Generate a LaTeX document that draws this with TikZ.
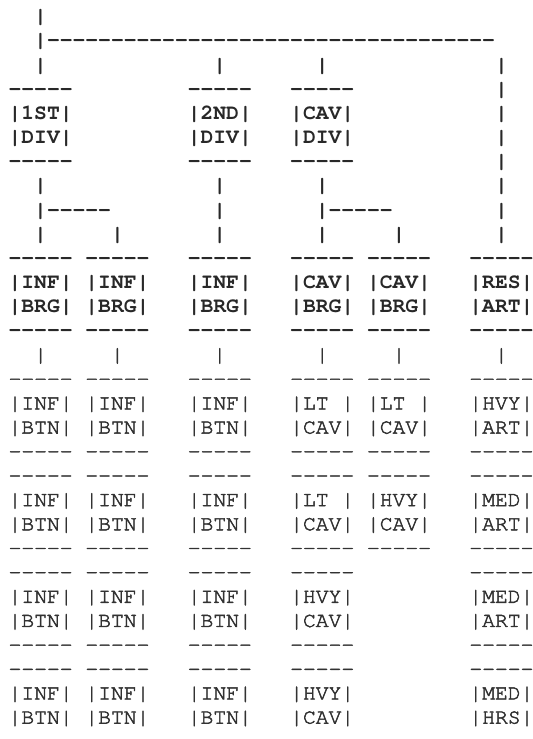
\documentclass[tikz,border=0pt]{standalone}
\usepackage[T1,TU]{fontenc}
\definecolor{asccol}{RGB}{40,40,40}
\definecolor{asclite}{RGB}{50,50,50}
\newcount\dcnt
\newcommand\dashrep[1]{\dcnt=#1\relax\loop-{}\advance\dcnt by -1\relax\ifnum\dcnt>0 \repeat}
\newcommand\ascfont{\fontencoding{T1}\fontfamily{pcr}\fontseries{m}\fontshape{n}\fontsize{16}{18}\selectfont}
\newcommand\ascbold{\fontencoding{T1}\fontfamily{pcr}\fontseries{b}\fontshape{n}\fontsize{16}{18}\selectfont}
\tikzset{
  asc/.style={anchor=base west, inner sep=0pt, outer sep=0pt, font=\ascfont, text=asclite,
    execute at begin node={\special{pdf:literal direct 2 Tr 0.35 w}},
    execute at end node={\special{pdf:literal direct 0 Tr}}},
  ascb/.style={anchor=base west, inner sep=0pt, outer sep=0pt, font=\ascbold, text=asccol}
}
% one run of characters: [style] name col line text
\newcommand\glyphs[5][asc]{\node[#1] (#2) at ({8.6+12.8*(#3)},{22.7+24.17*((#4)-1)}) {#5};}
% a box of four lines: [style] name col topline label1 label2
\newcommand\unitbox[6][asc]{%
  \glyphs[#1]{#2t}{#3}{#4}{\dashrep{5}}%
  \glyphs[#1]{#2a}{#3}{#4+1}{\textbar #5\textbar}%
  \glyphs[#1]{#2b}{#3}{#4+2}{\textbar #6\textbar}%
  \glyphs[#1]{#2u}{#3}{#4+3}{\dashrep{5}}}
% a box whose bottom line falls outside the picture
\newcommand\unitopen[6][asc]{%
  \glyphs[#1]{#2t}{#3}{#4}{\dashrep{5}}%
  \glyphs[#1]{#2a}{#3}{#4+1}{\textbar #5\textbar}%
  \glyphs[#1]{#2b}{#3}{#4+2}{\textbar #6\textbar}}
\begin{document}
\begin{tikzpicture}[x=0.75pt,y=-0.75pt]
\fill[white] (0,0) rectangle (532,739);
\useasboundingbox (0,0) rectangle (532,739);
% trunk and bus
\glyphs[ascb]{top}{2}{1}{\textbar}
\glyphs[ascb]{bus}{2}{2}{\textbar\dashrep{35}}
\glyphs[ascb]{v3a}{2}{3}{\textbar}
\glyphs[ascb]{v3b}{16}{3}{\textbar}
\glyphs[ascb]{v3c}{24}{3}{\textbar}
\glyphs[ascb]{v3d}{38}{3}{\textbar}
% divisions
\unitbox[ascb]{d1}{0}{4}{1ST}{DIV}
\unitbox[ascb]{d2}{14}{4}{2ND}{DIV}
\unitbox[ascb]{d3}{22}{4}{CAV}{DIV}
\glyphs[ascb]{v4d}{38}{4}{\textbar}
\glyphs[ascb]{v5d}{38}{5}{\textbar}
\glyphs[ascb]{v6d}{38}{6}{\textbar}
\glyphs[ascb]{v7d}{38}{7}{\textbar}
% links to brigades
\glyphs[ascb]{v8a}{2}{8}{\textbar}
\glyphs[ascb]{v8b}{16}{8}{\textbar}
\glyphs[ascb]{v8c}{24}{8}{\textbar}
\glyphs[ascb]{v8d}{38}{8}{\textbar}
\glyphs[ascb]{h9a}{2}{9}{\textbar\dashrep{5}}
\glyphs[ascb]{v9b}{16}{9}{\textbar}
\glyphs[ascb]{h9c}{24}{9}{\textbar\dashrep{5}}
\glyphs[ascb]{v9d}{38}{9}{\textbar}
\glyphs[ascb]{v10a}{2}{10}{\textbar}
\glyphs[ascb]{v10b}{8}{10}{\textbar}
\glyphs[ascb]{v10c}{16}{10}{\textbar}
\glyphs[ascb]{v10d}{24}{10}{\textbar}
\glyphs[ascb]{v10e}{30}{10}{\textbar}
\glyphs[ascb]{v10f}{38}{10}{\textbar}
% brigades
\unitbox[ascb]{b1}{0}{11}{INF}{BRG}
\unitbox[ascb]{b2}{6}{11}{INF}{BRG}
\unitbox[ascb]{b3}{14}{11}{INF}{BRG}
\unitbox[ascb]{b4}{22}{11}{CAV}{BRG}
\unitbox[ascb]{b5}{28}{11}{CAV}{BRG}
\unitbox[ascb]{b6}{36}{11}{RES}{ART}
% links to units
\glyphs{v15a}{2}{15}{\textbar}
\glyphs{v15b}{8}{15}{\textbar}
\glyphs{v15c}{16}{15}{\textbar}
\glyphs{v15d}{24}{15}{\textbar}
\glyphs{v15e}{30}{15}{\textbar}
\glyphs{v15f}{38}{15}{\textbar}
% units, first row
\unitbox{u11}{0}{16}{INF}{BTN}
\unitbox{u21}{6}{16}{INF}{BTN}
\unitbox{u31}{14}{16}{INF}{BTN}
\unitbox{u41}{22}{16}{LT\phantom{T}}{CAV}
\unitbox{u51}{28}{16}{LT\phantom{T}}{CAV}
\unitbox{u61}{36}{16}{HVY}{ART}
% second row
\unitbox{u12}{0}{20}{INF}{BTN}
\unitbox{u22}{6}{20}{INF}{BTN}
\unitbox{u32}{14}{20}{INF}{BTN}
\unitbox{u42}{22}{20}{LT\phantom{T}}{CAV}
\unitbox{u52}{28}{20}{HVY}{CAV}
\unitbox{u62}{36}{20}{MED}{ART}
% third row
\unitbox{u13}{0}{24}{INF}{BTN}
\unitbox{u23}{6}{24}{INF}{BTN}
\unitbox{u33}{14}{24}{INF}{BTN}
\unitbox{u43}{22}{24}{HVY}{CAV}
\unitbox{u63}{36}{24}{MED}{ART}
% fourth row
\unitopen{u14}{0}{28}{INF}{BTN}
\unitopen{u24}{6}{28}{INF}{BTN}
\unitopen{u34}{14}{28}{INF}{BTN}
\unitopen{u44}{22}{28}{HVY}{CAV}
\unitopen{u64}{36}{28}{MED}{HRS}
\end{tikzpicture}
\end{document}
